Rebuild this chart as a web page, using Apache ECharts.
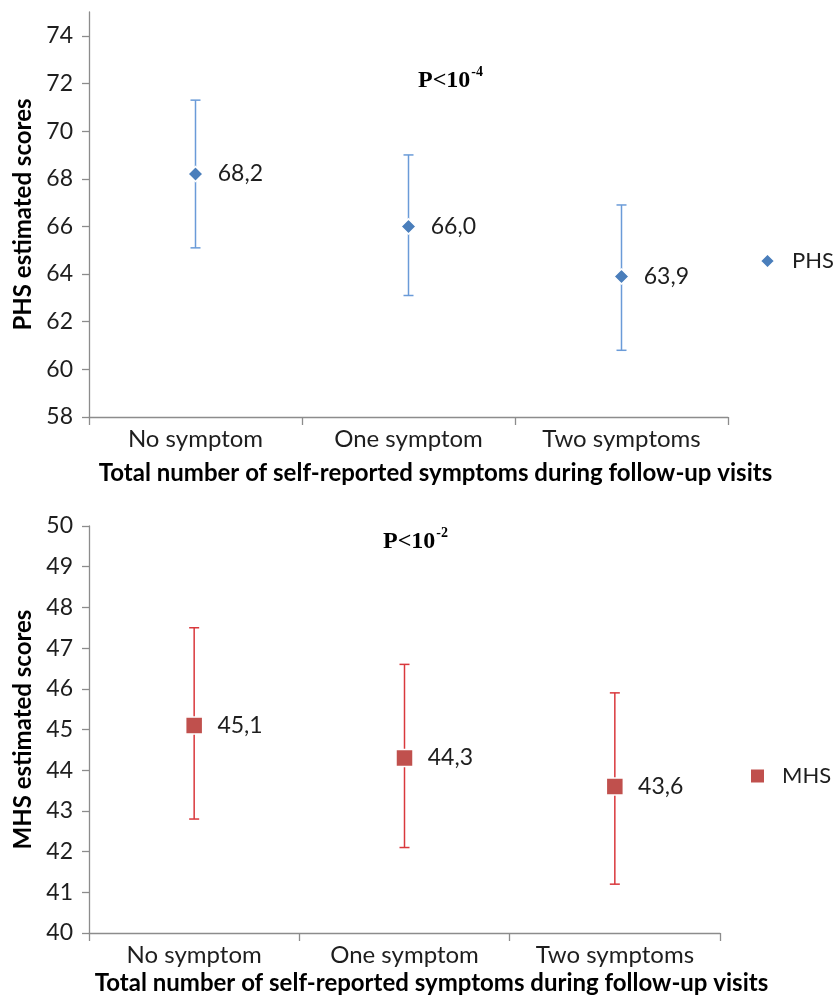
<!DOCTYPE html>
<html>
<head>
<meta charset="utf-8">
<script src="https://cdn.jsdelivr.net/npm/echarts@6/dist/echarts.min.js"></script>
<style>
html,body{margin:0;padding:0;background:#fff;}
#c{width:838px;height:998px;}
</style>
</head>
<body>
<div id="c"></div>
<script>
const categories = ['No symptom', 'One symptom', 'Two symptoms'];
const phsValues = [68.2, 66.0, 63.9];
const phsLow = [65.1, 63.1, 60.8];
const phsHigh = [71.3, 69.0, 66.9];
const mhsValues = [45.1, 44.3, 43.6];
const mhsLow = [42.8, 42.1, 41.2];
const mhsHigh = [47.5, 46.6, 45.9];
const phsTicks = [58, 60, 62, 64, 66, 68, 70, 72, 74];
const mhsTicks = [40, 41, 42, 43, 44, 45, 46, 47, 48, 49, 50];
const xTitle = 'Total number of self-reported symptoms during follow-up visits';

const FONT = 'Lato';
const AXIS_COLOR = '#8c8c8c';
const TEXT_COLOR = '#1e1e1e';

function fmt(v){ return v.toFixed(1).replace('.', ','); }

function errRenderer(color){
  return function(params, api){
    const i = api.value(0);
    const lo = api.coord([i, api.value(1)]);
    const hi = api.coord([i, api.value(2)]);
    const cap = 5;
    const style = {stroke: color, lineWidth: 1.5, fill: null};
    return {
      type: 'group',
      children: [
        {type: 'line', shape: {x1: lo[0], y1: lo[1], x2: hi[0], y2: hi[1]}, style},
        {type: 'line', shape: {x1: hi[0]-cap, y1: hi[1], x2: hi[0]+cap, y2: hi[1]}, style},
        {type: 'line', shape: {x1: lo[0]-cap, y1: lo[1], x2: lo[0]+cap, y2: lo[1]}, style}
      ]
    };
  };
}

const xAxisCommon = {
  type: 'category',
  data: categories,
  boundaryGap: true,
  axisLine: {lineStyle: {color: AXIS_COLOR, width: 1.3}},
  axisTick: {show: true, length: 8, lineStyle: {color: AXIS_COLOR, width: 1.3}},
  axisLabel: {fontFamily: FONT, fontSize: 24, color: TEXT_COLOR, margin: 10},
  splitLine: {show: false},
  name: xTitle,
  nameLocation: 'middle',
  nameTextStyle: {fontFamily: FONT, fontSize: 24, fontWeight: 'bold', color: '#000', padding: [0, 0, 0, 54]}
};

const yAxisCommon = {
  type: 'value',
  axisLine: {show: true, lineStyle: {color: AXIS_COLOR, width: 1.3}},
  splitLine: {show: false},
  nameLocation: 'middle',
  nameGap: 50,
  nameTextStyle: {fontFamily: FONT, fontSize: 24, fontWeight: 'bold', color: '#000'}
};

const diamond = 'path://M0,-1 L1,0 L0,1 L-1,0 Z';

const labelStyle = {show: true, position: 'right', distance: 14, fontFamily: FONT, fontSize: 23, color: TEXT_COLOR,
  formatter: p => fmt(p.value)};

const option = {
  backgroundColor: '#fff',
  animation: false,
  grid: [
    {left: 89, right: 110, top: 12, height: 405},
    {left: 89, right: 118, top: 526, height: 407}
  ],
  xAxis: [
    Object.assign({}, xAxisCommon, {gridIndex: 0, nameGap: 44}),
    Object.assign({}, xAxisCommon, {gridIndex: 1, nameGap: 38})
  ],
  yAxis: [
    Object.assign({}, yAxisCommon, {
      gridIndex: 0, min: 58, max: 75, interval: 2,
      name: 'PHS estimated scores',
      axisLabel: {fontFamily: FONT, fontSize: 23, color: TEXT_COLOR, margin: 16, customValues: phsTicks},
      axisTick: {show: true, length: 7, lineStyle: {color: AXIS_COLOR, width: 1.3}, customValues: phsTicks}
    }),
    Object.assign({}, yAxisCommon, {
      gridIndex: 1, min: 40, max: 50, interval: 1,
      name: 'MHS estimated scores',
      axisLabel: {fontFamily: FONT, fontSize: 23, color: TEXT_COLOR, margin: 16, customValues: mhsTicks},
      axisTick: {show: true, length: 7, lineStyle: {color: AXIS_COLOR, width: 1.3}, customValues: mhsTicks}
    })
  ],
  legend: [
    {
      data: [{name: 'PHS', icon: diamond}],
      left: 754, top: 245, orient: 'vertical',
      itemWidth: 15, itemHeight: 15, itemGap: 10,
      textStyle: {fontFamily: FONT, fontSize: 22, color: TEXT_COLOR, padding: [0,0,0,12]}
    },
    {
      data: [{name: 'MHS', icon: 'rect'}],
      left: 744, top: 760, orient: 'vertical',
      itemWidth: 15, itemHeight: 15, itemGap: 10,
      textStyle: {fontFamily: FONT, fontSize: 22, color: TEXT_COLOR, padding: [0,0,0,12]}
    }
  ],
  graphic: [
    {
      type: 'text', left: 418, top: 65,
      style: {
        text: '{a|P<10}{s|-4}',
        rich: {
          a: {fontFamily: 'Liberation Serif', fontWeight: 'bold', fontSize: 24, fill: '#000', verticalAlign: 'bottom', lineHeight: 28},
          s: {fontFamily: 'Liberation Serif', fontWeight: 'bold', fontSize: 14, fill: '#000', verticalAlign: 'top', lineHeight: 28, padding: [0,0,13,1]}
        }
      }
    },
    {
      type: 'text', left: 383, top: 526,
      style: {
        text: '{a|P<10}{s|-2}',
        rich: {
          a: {fontFamily: 'Liberation Serif', fontWeight: 'bold', fontSize: 24, fill: '#000', verticalAlign: 'bottom', lineHeight: 28},
          s: {fontFamily: 'Liberation Serif', fontWeight: 'bold', fontSize: 14, fill: '#000', verticalAlign: 'top', lineHeight: 28, padding: [0,0,13,1]}
        }
      }
    }
  ],
  series: [
    {
      type: 'custom', name: 'PHS error', xAxisIndex: 0, yAxisIndex: 0, z: 1,
      renderItem: errRenderer('#6a9bd8'),
      encode: {x: 0, y: [1, 2]},
      data: categories.map((c, i) => [i, phsLow[i], phsHigh[i]]),
      silent: true
    },
    {
      type: 'scatter', name: 'PHS', xAxisIndex: 0, yAxisIndex: 0, z: 3,
      symbol: diamond, symbolSize: 15,
      itemStyle: {color: '#4a7ebb', opacity: 1, borderColor: '#fff', borderWidth: 1.5},
      label: labelStyle,
      data: phsValues
    },
    {
      type: 'custom', name: 'MHS error', xAxisIndex: 1, yAxisIndex: 1, z: 1,
      renderItem: errRenderer('#d9383c'),
      encode: {x: 0, y: [1, 2]},
      data: categories.map((c, i) => [i, mhsLow[i], mhsHigh[i]]),
      silent: true
    },
    {
      type: 'scatter', name: 'MHS', xAxisIndex: 1, yAxisIndex: 1, z: 3,
      symbol: 'rect', symbolSize: 17,
      itemStyle: {color: '#c0504d', opacity: 1, borderColor: '#fff', borderWidth: 1.5},
      label: labelStyle,
      data: mhsValues
    }
  ]
};

const chart = echarts.init(document.getElementById('c'), null, {renderer: 'canvas'});
chart.setOption(option);
</script>
</body>
</html>
